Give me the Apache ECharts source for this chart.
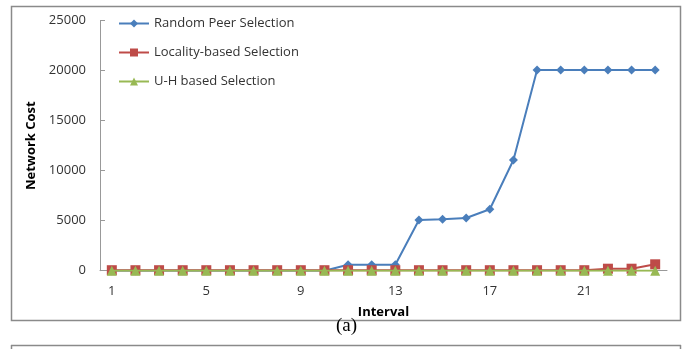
<!DOCTYPE html>
<html><head><meta charset="utf-8">
<script src="https://cdn.jsdelivr.net/npm/echarts@6/dist/echarts.min.js"></script>
<style>html,body{margin:0;padding:0;background:#fff}#c{width:688px;height:349px}</style>
</head><body><div id="c"></div>
<script>
const categories = ['1','2','3','4','5','6','7','8','9','10','11','12','13','14','15','16','17','18','19','20','21','22','23','24'];
const randomPeer = [0,0,0,0,0,0,0,0,0,0,600,600,600,5070,5140,5270,6140,11070,20080,20080,20080,20080,20080,20080];
const locality = [50,50,50,50,50,50,50,50,50,50,50,50,50,50,50,50,50,50,50,50,50,200,200,640];
const uhBased = [0,0,0,0,0,0,0,0,0,0,0,0,0,0,0,0,0,0,0,0,0,0,0,0];
const yTicks = [0,5000,10000,15000,20000,25000];

const font = 'Open Sans';
const chart = echarts.init(document.getElementById('c'));
chart.setOption({
  animation:false,
  backgroundColor:'#fff',
  graphic:[
    {type:'rect',shape:{x:11.5,y:6.5,width:669,height:314},style:{fill:'none',stroke:'#8a8a8a',lineWidth:1.5},z:-1},
    {type:'line',shape:{x1:11,y1:345.5,x2:681,y2:345.5},style:{stroke:'#8a8a8a',lineWidth:1.5}},
    {type:'line',shape:{x1:11.5,y1:345,x2:11.5,y2:349},style:{stroke:'#8a8a8a',lineWidth:1.5}},
    {type:'line',shape:{x1:680.5,y1:345,x2:680.5,y2:349},style:{stroke:'#8a8a8a',lineWidth:1.5}},
    {type:'text',left:336,top:317,style:{text:'(a)',font:'19px "Liberation Serif"',fill:'#000'}}
  ],
  grid:{left:100,right:21,top:20.7,bottom:78.3},
  legend:{
    orient:'vertical',left:113,top:12,itemWidth:30,itemHeight:10,itemGap:16,
    textStyle:{fontFamily:font,fontSize:13,color:'#333'},
    data:['Random Peer Selection','Locality-based Selection','U-H based Selection']
  },
  xAxis:{
    type:'category',data:categories,boundaryGap:true,
    name:'Interval',nameLocation:'middle',nameGap:35,
    nameTextStyle:{fontFamily:font,fontSize:13,fontWeight:'bold',color:'#000'},
    axisLine:{lineStyle:{color:'#999'}},
    axisTick:{interval:3,inside:true,length:5,lineStyle:{color:'#999'}},
    axisLabel:{interval:3,fontFamily:font,fontSize:13,color:'#333',margin:14}
  },
  yAxis:{
    type:'value',min:yTicks[0],max:yTicks[yTicks.length-1],interval:5000,
    name:'Network Cost',nameLocation:'middle',nameGap:62,nameRotate:90,
    nameTextStyle:{fontFamily:font,fontSize:13,fontWeight:'bold',color:'#000'},
    axisLine:{show:true,lineStyle:{color:'#999'}},
    axisTick:{show:true,inside:true,length:5,lineStyle:{color:'#999'}},
    splitLine:{show:false},
    axisLabel:{fontFamily:font,fontSize:13,color:'#333',margin:14,formatter:v=>String(v)}
  },
  series:[
    {name:'Random Peer Selection',type:'line',data:randomPeer,symbol:'diamond',symbolSize:9,
     itemStyle:{color:'#4a7ebb'},lineStyle:{width:2,color:'#4a7ebb'},z:2},
    {name:'Locality-based Selection',type:'line',data:locality,symbol:'rect',symbolSize:10,
     itemStyle:{color:'#be4b48'},lineStyle:{width:2,color:'#be4b48'},z:3},
    {name:'U-H based Selection',type:'line',data:uhBased,symbol:'triangle',symbolSize:10,
     itemStyle:{color:'#98b954'},lineStyle:{width:2,color:'#98b954'},z:4}
  ]
});
</script></body></html>
